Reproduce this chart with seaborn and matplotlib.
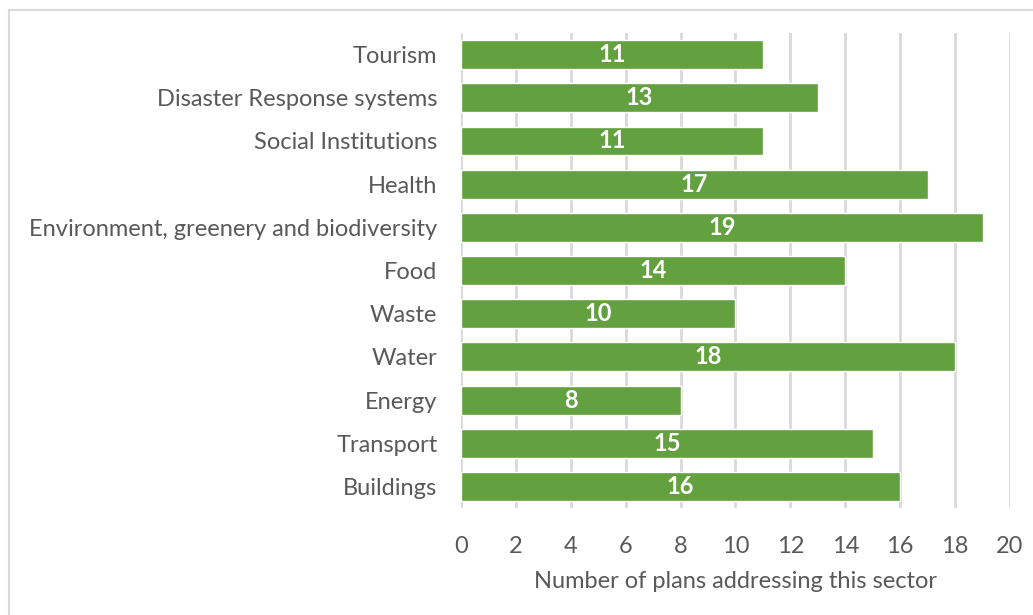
import matplotlib
matplotlib.use("Agg")
import matplotlib.pyplot as plt
from matplotlib.lines import Line2D
import seaborn as sns
import pandas as pd

sectors = ["Tourism", "Disaster Response systems", "Social Institutions", "Health",
           "Environment, greenery and biodiversity", "Food", "Waste", "Water",
           "Energy", "Transport", "Buildings"]
plan_counts = [11, 13, 11, 17, 19, 14, 10, 18, 8, 15, 16]
x_ticks = [0, 2, 4, 6, 8, 10, 12, 14, 16, 18, 20]
x_label = "Number of plans addressing this sector"

sns.set_style("white")
plt.rcParams["font.family"] = ["Lato", "DejaVu Sans"]

df = pd.DataFrame({"sector": sectors, "plans": plan_counts})

fig = plt.figure(figsize=(10.33, 6.15), dpi=100)
ax = fig.add_axes([0.4463, 0.174, 0.9777 - 0.4463, 0.9463 - 0.174])

sns.barplot(data=df, x="plans", y="sector", orient="h", color="#63A03F",
            saturation=1, width=0.67, ax=ax, zorder=3)

ax.set_xlim(0, 20)
ax.set_xticks(x_ticks)
ax.grid(axis="x", color="#d9d9d9", linewidth=2, zorder=0)
ax.grid(axis="y", visible=False)
for s in ax.spines.values():
    s.set_visible(False)
ax.tick_params(axis="both", length=0, labelsize=17, colors="#595959")
ax.tick_params(axis="x", pad=20)
ax.tick_params(axis="y", pad=17)
ax.set_ylabel("")
ax.set_xlabel(x_label, fontsize=17, color="#595959", labelpad=10)

for patch, v in zip(ax.patches, plan_counts):
    y = patch.get_y() + patch.get_height() / 2
    ax.text(v / 2, y, str(v), ha="center", va="center", color="white",
            fontsize=17, fontweight="bold", zorder=4)

# thin frame around the chart area
fig.add_artist(Line2D([9 / 1033, 1], [1 - 10 / 615, 1 - 10 / 615],
                      transform=fig.transFigure, color="#d9d9d9", linewidth=1.5))
fig.add_artist(Line2D([9 / 1033, 9 / 1033], [0, 1 - 10 / 615],
                      transform=fig.transFigure, color="#d9d9d9", linewidth=1.5))

fig.savefig("out.png", dpi=100)
